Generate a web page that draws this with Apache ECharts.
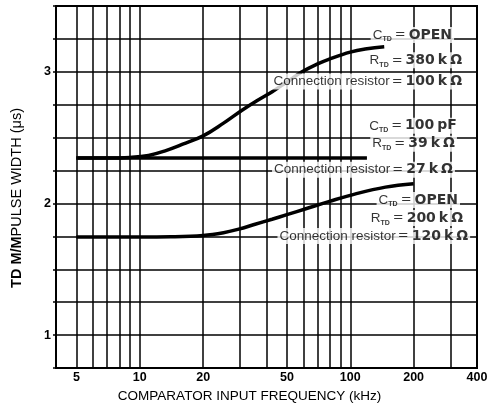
<!DOCTYPE html>
<html><head><meta charset="utf-8">
<script src="https://cdn.jsdelivr.net/npm/echarts@6/dist/echarts.min.js"></script>
<style>html,body{margin:0;padding:0;background:#fff}#c{width:496px;height:418px}</style>
</head><body><div id="c"></div>
<script>
// ---- data ----
const xTickLabels = [5, 10, 20, 50, 100, 200, 400];
const xGridValues = [5, 6, 7, 8, 9, 10, 20, 30, 40, 50, 60, 70, 80, 90, 100, 200, 300];
const yTickLabels = [1, 2, 3];

// C_TD = OPEN, R_TD = 380k, connection resistor = 100k
const freqA  = [5, 7, 9, 11, 13.2, 16, 20, 25, 30.6, 36, 42.6, 50, 59, 70, 79, 100, 120, 145];
const widthA = [2.345, 2.345, 2.35, 2.365, 2.40, 2.45, 2.513, 2.61, 2.708, 2.78, 2.849, 2.923, 3.0, 3.06, 3.095, 3.15, 3.175, 3.19];
// C_TD = 100pF, R_TD = 39k, connection resistor = 27k
const freqB  = [5, 10, 20, 50, 120];
const widthB = [2.345, 2.345, 2.345, 2.345, 2.345];
// C_TD = OPEN, R_TD = 200k, connection resistor = 120k
const freqC  = [5, 10, 14, 20, 25, 29.5, 35, 42.5, 50, 61, 79, 106, 147, 200];
const widthC = [1.745, 1.745, 1.747, 1.757, 1.778, 1.805, 1.84, 1.88, 1.915, 1.958, 2.014, 2.073, 2.124, 2.15];

const noteTexts = [
  '{n|C}{s|TD}{e|=}{v|OPEN}',
  '{n|R}{s|TD}{e|=}{v|380}{u|k}{o|Ω}',
  '{n|Connection resistor}{e|=}{v|100}{u|k}{o|Ω}',
  '{n|C}{s|TD}{e|=}{v|100}{u|pF}',
  '{n|R}{s|TD}{e|=}{v|39}{u|k}{o|Ω}',
  '{n|Connection resistor}{e|=}{v|27}{u|k}{o|Ω}',
  '{n|C}{s|TD}{e|=}{v|OPEN}',
  '{n|R}{s|TD}{e|=}{v|200}{u|k}{o|Ω}',
  '{n|Connection resistor}{e|=}{v|120}{u|k}{o|Ω}'
];
// label anchors (right edge of each note) in data space
const noteFreq  = [313, 349, 349, 330, 323, 316, 334, 353, 373];
const noteWidth = [3.28, 3.088, 2.927, 2.59, 2.454, 2.256, 2.027, 1.889, 1.752];

// ---- chart ----
const zip = (a, b) => a.map((v, i) => [v, b[i]]);
const chart = echarts.init(document.getElementById('c'), null, {renderer: 'canvas'});
const FONT = '"Liberation Sans", Arial, sans-serif';
const DJ = '"DejaVu Sans", sans-serif';
const curve = (name, fx, wy, smooth) => ({
  name, type: 'line', data: zip(fx, wy), smooth, showSymbol: false, symbol: 'none',
  lineStyle: {color: '#000', width: 3.5}, z: 3, silent: true
});

chart.setOption({
  animation: false,
  backgroundColor: '#fff',
  grid: {left: 56, top: 6, right: 19, bottom: 50, show: true, borderColor: '#000', borderWidth: 2, backgroundColor: 'transparent'},
  xAxis: {
    type: 'log', logBase: 10, min: 4, max: 400,
    name: 'COMPARATOR INPUT FREQUENCY (kHz)', nameLocation: 'middle', nameGap: 17,
    nameTextStyle: {fontFamily: FONT, fontSize: 13.5, color: '#000', padding: [0, 34, 0, 0]},
    axisLine: {show: true, lineStyle: {color: '#000', width: 2}},
    axisTick: {show: false, customValues: xGridValues},
    axisLabel: {customValues: xTickLabels, fontFamily: FONT, fontWeight: 'bold', fontSize: 12.5, color: '#000', margin: 3},
    splitLine: {show: true, lineStyle: {color: '#000', width: 1.5}},
    minorTick: {show: false}, minorSplitLine: {show: false}
  },
  yAxis: {
    type: 'value', min: 0.75, max: 3.5, interval: 0.25,
    name: '{b|TD M/M}{n|PULSE WIDTH (μs)}{p|}', nameLocation: 'middle', nameGap: 32,
    nameTextStyle: {rich: {
      b: {fontFamily: FONT, fontWeight: 'bold', fontSize: 14.5, color: '#000'},
      n: {fontFamily: FONT, fontSize: 14.5, color: '#000'},
      p: {width: 22, fontSize: 14.5}
    }},
    axisLine: {show: true, lineStyle: {color: '#000', width: 2}},
    axisTick: {show: true, length: 3, lineStyle: {color: '#000', width: 1.5}},
    axisLabel: {fontFamily: FONT, fontWeight: 'bold', fontSize: 12.5, color: '#000', margin: 5,
      formatter: v => yTickLabels.includes(v) ? String(v) : ''},
    splitLine: {show: true, lineStyle: {color: '#000', width: 1.5}}
  },
  series: [
    curve('A', freqA, widthA, 0.4),
    curve('B', freqB, widthB, false),
    curve('C', freqC, widthC, 0.4),
    {
      type: 'scatter', silent: true, z: 10, symbolSize: 1,
      itemStyle: {color: 'transparent'},
      data: noteFreq.map((f, i) => [f, noteWidth[i], i]),
      label: {
        show: true, position: 'left', distance: 0,
        backgroundColor: '#fff', padding: [0, 2, 0, 2],
        formatter: p => noteTexts[p.data[2]],
        rich: {
          n: {fontFamily: FONT, fontSize: 13.5, color: '#000', lineHeight: 16},
          s: {fontFamily: FONT, fontSize: 7, fontWeight: 'bold', color: '#000', verticalAlign: 'bottom', lineHeight: 10, padding: [0, 1, 0, 0]},
          e: {fontFamily: DJ, fontSize: 13, color: '#000', padding: [0, 3, 0, 2], lineHeight: 16},
          v: {fontFamily: DJ, fontSize: 14, fontWeight: 'bold', color: '#000', lineHeight: 16},
          u: {fontFamily: DJ, fontSize: 14, fontWeight: 'bold', color: '#000', padding: [0, 0, 0, 3], lineHeight: 16},
          o: {fontFamily: DJ, fontSize: 14, fontWeight: 'bold', color: '#000', padding: [0, 0, 0, 3], lineHeight: 16}
        }
      }
    }
  ]
});
</script></body></html>
